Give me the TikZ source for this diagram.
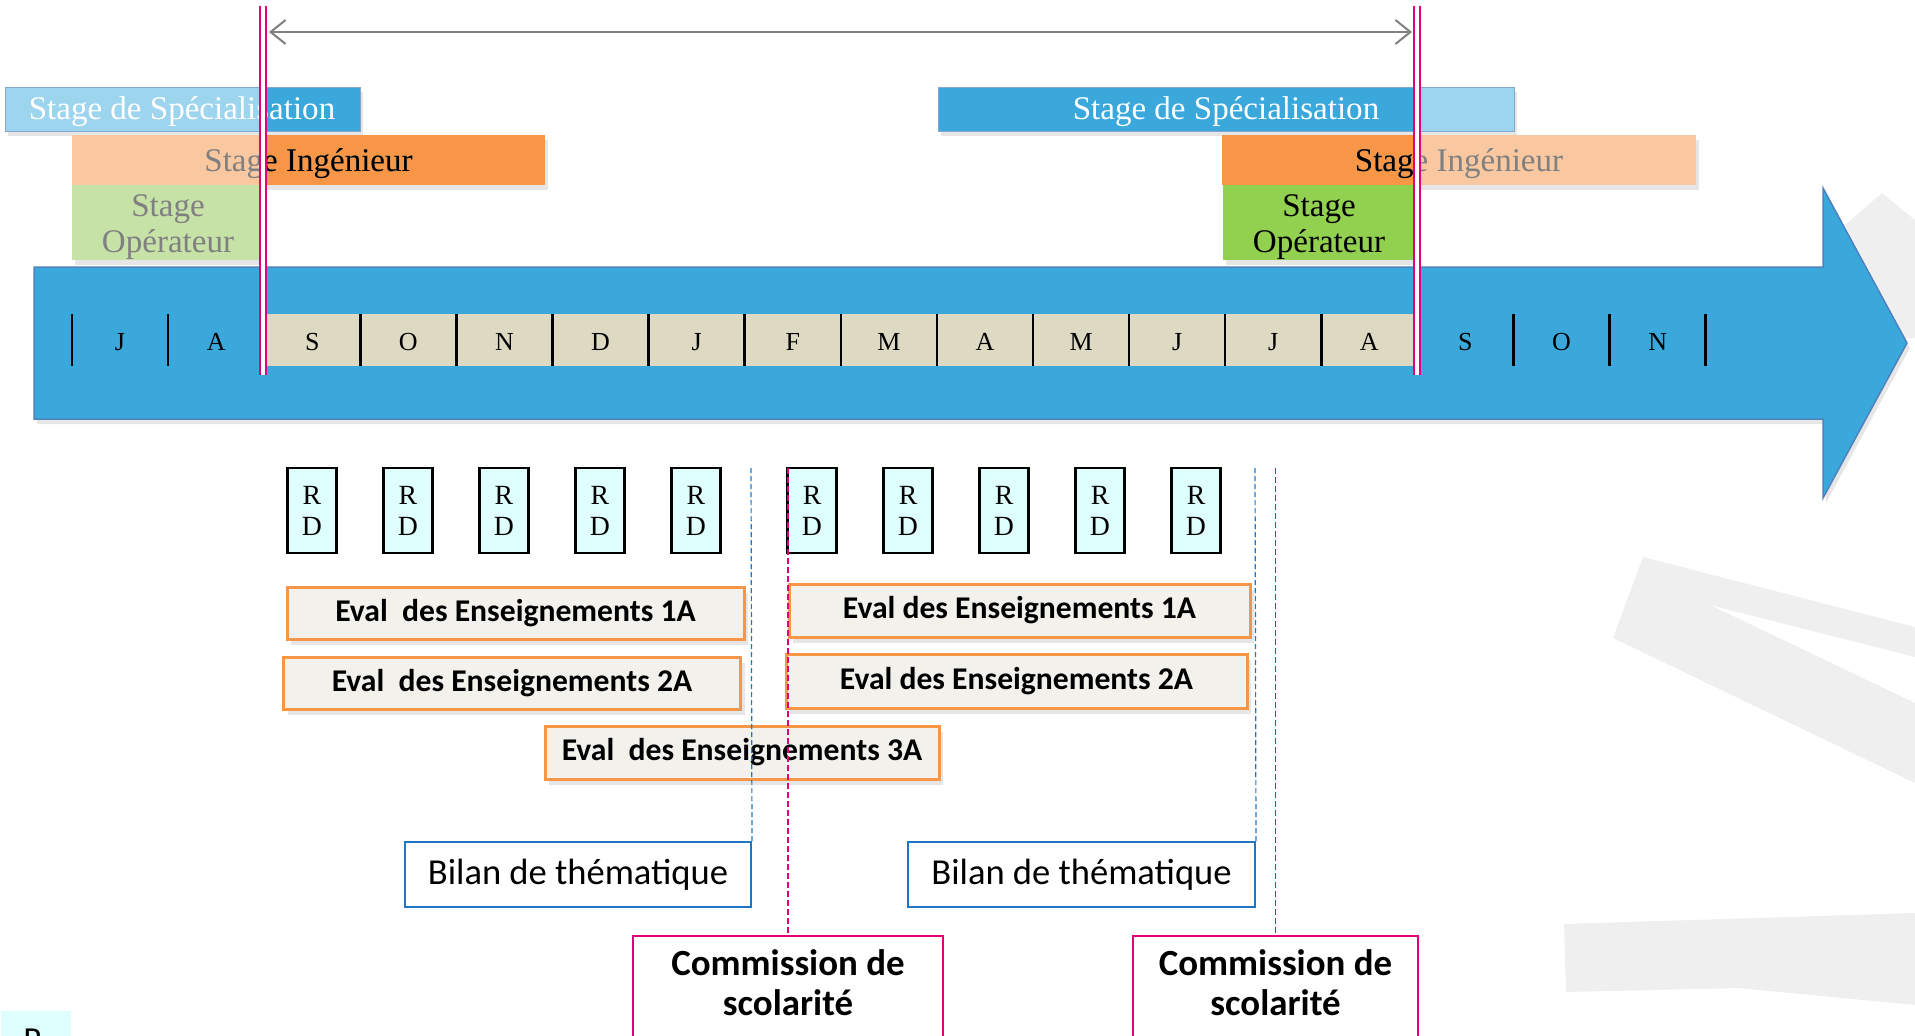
\documentclass[tikz,border=0pt]{standalone}
\usepackage{fontspec}
\setmainfont{Liberation Serif}
\newfontfamily\calibri{Carlito}
\usepackage{tikz}
\usetikzlibrary{arrows.meta,shadows}
\definecolor{bleuF}{HTML}{3BA8DC}
\definecolor{bleuC}{HTML}{9DD4EE}
\definecolor{bleuB}{HTML}{4F81BD}
\definecolor{orangeF}{HTML}{F79646}
\definecolor{orangeC}{HTML}{FAC8A0}
\definecolor{vertF}{HTML}{92D050}
\definecolor{vertC}{HTML}{C7E2A7}
\definecolor{beige}{HTML}{DDD9C3}
\definecolor{cyanRD}{HTML}{DFFEFE}
\definecolor{fondEval}{HTML}{F2F1EC}
\definecolor{bleuBilan}{HTML}{1F77C3}
\definecolor{rose}{HTML}{E2007A}
\definecolor{grisFond}{HTML}{EFEFEF}
\definecolor{grisTxt}{HTML}{808080}
\tikzstyle{stagetxt}=[inner sep=0pt, align=center, font=\fontsize{9.4}{10.3}\selectfont]
\tikzstyle{mois}=[inner sep=0pt, font=\fontsize{7.4}{8}\selectfont]
\tikzstyle{trait}=[black, line width=0.25mm]
\tikzstyle{rd}=[draw=black, line width=0.25mm, fill=cyanRD, minimum width=4.9mm, minimum height=8.5mm, inner sep=0pt, align=center, font=\fontsize{7.9}{8.8}\selectfont]
\tikzstyle{evalbox}=[draw=orangeF, line width=0.3mm, fill=fondEval, inner sep=0pt, minimum height=5.2mm, font=\calibri\bfseries\fontsize{9}{10}\selectfont, drop shadow={opacity=0.2, shadow xshift=0.4mm, shadow yshift=-0.6mm}]
\tikzstyle{bilan}=[draw=bleuBilan, line width=0.2mm, fill=white, inner sep=0pt, minimum width=34.6mm, minimum height=6.5mm, font=\calibri\fontsize{10.4}{12}\selectfont]
\tikzstyle{commbox}=[draw=rose, line width=0.2mm, fill=white, inner sep=0pt, anchor=north, minimum height=14mm]
\tikzstyle{commtxt}=[inner sep=0pt, align=center, font=\calibri\bfseries\fontsize{10.5}{11.4}\selectfont]
\tikzstyle{repere}=[rose, line width=0.2mm, double=white, double distance=0.35mm]
\tikzstyle{tiretB}=[bleuBilan, line width=0.12mm, dash pattern=on 0.5mm off 0.3mm]
\tikzstyle{tiretR}=[rose, line width=0.12mm, dash pattern=on 0.6mm off 0.3mm]
\tikzstyle{ombre}=[drop shadow={opacity=0.2, shadow xshift=0.3mm, shadow yshift=-0.5mm}]
\tikzstyle{fleche}=[draw=grisTxt, line width=0.2mm, {Straight Barb[length=1.5mm,width=2.4mm]}-{Straight Barb[length=1.5mm,width=2.4mm]}]
\begin{document}
\begin{tikzpicture}[x=0.1mm, y=-0.1mm]
	\useasboundingbox (0,0) rectangle (1915,1035);
	\begin{scope}
		\fill[grisFond] (1643,557) -- (1915,627) -- (1915,657) -- (1710,605) -- (1915,703) -- (1915,783) -- (1613,638) -- cycle;
		\fill[grisFond] (1564,924) -- (1915,913) -- (1915,1005) -- (1738,988) -- (1566,992) -- cycle;
		\fill[grisFond] (1882,193) -- (1915,220) -- (1915,338) -- (1905,338) -- (1845,225) -- cycle;
	\end{scope}
	\begin{scope}
		\draw[fill=bleuF, draw=bleuB, line width=0.15mm, ombre] (34,267) -- (1823,267) -- (1823,188) -- (1907,343) -- (1823,498) -- (1823,419) -- (34,419) -- cycle;
		\fill[beige] (264,314) rectangle (1417,366);
		\foreach \k in {0,...,17}
			\draw[trait] ({72+96.1*\k},314) -- ({72+96.1*\k},366);
		\foreach \m [count=\i from 0] in {J,A,S,O,N,D,J,F,M,A,M,J,J,A,S,O,N}
			\node[mois] (m\i) at ({72+96.1*(\i+0.5)},342) {\m};
	\end{scope}
	\begin{scope}
		\path[ombre] (5,87) rectangle (360,131);
		\fill[bleuC] (5,87) rectangle (263,131);
		\fill[bleuF] (263,87) rectangle (360,131);
		\draw[bleuB!70, line width=0.1mm] (5,87) rectangle (360,131);
		\node[stagetxt, white] (spe1) at (182,112) {Stage de Spécialisation};
		\path[ombre] (72,135) rectangle (545,185);
		\fill[orangeC] (72,135) rectangle (263,185);
		\fill[orangeF] (263,135) rectangle (545,185);
		\node[stagetxt, grisTxt] (ing1) at (308.5,164) {Stage Ingénieur};
		\begin{scope}
			\clip (263,130) rectangle (560,190);
			\node[stagetxt, black] (ing1b) at (308.5,164) {Stage Ingénieur};
		\end{scope}
		\fill[vertC, ombre] (72,185) rectangle (264,260);
		\node[stagetxt, grisTxt] (op1) at (168,227) {Stage\\Opérateur};
	\end{scope}
	\begin{scope}
		\path[ombre] (938,87) rectangle (1514,131);
		\fill[bleuF] (938,87) rectangle (1417,131);
		\fill[bleuC] (1417,87) rectangle (1514,131);
		\draw[bleuB!70, line width=0.1mm] (938,87) rectangle (1514,131);
		\node[stagetxt, white] (spe2) at (1226,112) {Stage de Spécialisation};
		\path[ombre] (1222,135) rectangle (1696,185);
		\fill[orangeF] (1222,135) rectangle (1417,185);
		\fill[orangeC] (1417,135) rectangle (1696,185);
		\node[stagetxt, grisTxt] (ing2) at (1459,164) {Stage Ingénieur};
		\begin{scope}
			\clip (1200,130) rectangle (1417,190);
			\node[stagetxt, black] (ing2b) at (1459,164) {Stage Ingénieur};
		\end{scope}
		\fill[vertF, ombre] (1223,185) rectangle (1415,260);
		\node[stagetxt, black] (op2) at (1319,227) {Stage\\Opérateur};
	\end{scope}
	\begin{scope}
		\draw[repere] (263,6) -- (263,375);
		\draw[repere] (1417,6) -- (1417,375);
		\coordinate (t1) at (269,32);
		\coordinate (t2) at (1412,32);
		\draw[fleche] (t1) -- (t2);
	\end{scope}
	\begin{scope}
		\foreach \c [count=\i] in {312,408,504,600,696,812,908,1004,1100,1196}
			\node[rd] (rd\i) at (\c,510.5) {R\\D};
		\node[rd, draw=none, minimum width=7mm, minimum height=3mm, anchor=north west] (rd0) at (0,1010) {};
		\node[inner sep=0pt, anchor=north, font=\calibri\fontsize{10}{12}\selectfont] (rd0t) at (33,1028) {R};
	\end{scope}
	\begin{scope}
		\node[evalbox, minimum width=45.7mm] (e1a) at (515.5,613) {Eval\ \ des Enseignements 1A};
		\node[evalbox, minimum width=45.7mm] (e2a) at (512,683) {Eval\ \ des Enseignements 2A};
		\node[evalbox, minimum width=39.4mm, minimum height=5.3mm] (e3a) at (742,752.5) {Eval\ \ des Enseignements 3A};
		\node[evalbox, minimum width=46.1mm, minimum height=5.3mm] (e1b) at (1019.5,610.5) {Eval des Enseignements 1A};
		\node[evalbox, minimum width=46.1mm, minimum height=5.4mm] (e2b) at (1016.5,681) {Eval des Enseignements 2A};
	\end{scope}
	\begin{scope}
		\node[bilan] (bil1) at (578,874.5) {Bilan de thématique};
		\node[bilan, minimum width=34.7mm] (bil2) at (1081.5,874.5) {Bilan de thématique};
		\node[commbox, minimum width=31mm] (com1) at (788,935) {};
		\node[commtxt] (com1t) at (788,983) {Commission de\\scolarité};
		\node[commbox, minimum width=28.5mm] (com2) at (1275.5,935) {};
		\node[commtxt] (com2t) at (1275.5,983) {Commission de\\scolarité};
	\end{scope}
	\begin{scope}
		\coordinate (hb1) at (751,468);
		\coordinate (hr1) at (788,468);
		\coordinate (hb2) at (1255,468);
		\coordinate (hr2) at (1275.5,468);
		\draw[tiretB] (hb1) -- (bil1.north east);
		\draw[tiretR] (hr1) -- (com1.north);
		\draw[tiretB] (hb2) -- (bil2.north east);
		\draw[tiretR] (hr2) -- (com2.north);
	\end{scope}
\end{tikzpicture}
\end{document}
